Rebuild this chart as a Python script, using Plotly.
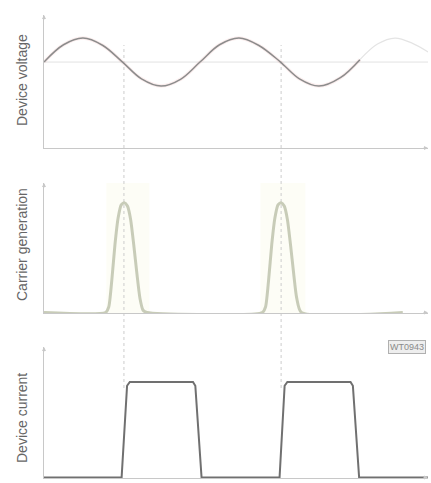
import plotly.graph_objects as go

W, H = 431, 483

# ---- data (time in quarter-period units) ----
volt_t = [0, 0.5, 1.0, 1.5, 2.0, 2.5, 3.0, 3.5, 4.0, 4.5, 5.0, 5.5, 6.05, 6.55, 7.05, 7.6, 8.1]
volt_v = [0, 0.72, 1.0, 0.7, 0.02, -0.7, -1.0, -0.72, 0, 0.72, 1.0, 0.7, 0.02, -0.7, -1.0, -0.65, 0.1]
volt_faint_t = [8.1, 8.55, 9.0, 9.45, 9.85]
volt_faint_v = [0.1, 0.75, 1.0, 0.78, 0.42]

carr_t = [0, 1.58, 1.66, 1.74, 1.82, 1.9, 1.98, 2.06, 2.14, 2.22, 2.3, 2.38, 2.46, 2.54, 2.64,
          5.6, 5.68, 5.76, 5.84, 5.92, 6.0, 6.08, 6.16, 6.24, 6.32, 6.4, 6.48, 6.6, 9.2]
carr_v = [0, 0, 0.05, 0.3, 0.62, 0.86, 0.98, 1.0, 0.97, 0.85, 0.62, 0.36, 0.13, 0.02, 0,
          0, 0.05, 0.3, 0.62, 0.86, 0.98, 1.0, 0.97, 0.85, 0.62, 0.36, 0.13, 0, 0]

curr_t = [0, 1.99, 2.13, 2.2, 3.82, 3.88, 4.04, 6.04, 6.17, 6.24, 7.86, 7.92, 8.08, 9.85]
curr_v = [0, 0, 0.96, 1.0, 1.0, 0.96, 0, 0, 0.96, 1.0, 1.0, 0.96, 0, 0]

marker_t = [2.05, 6.08]
labels = ["Device voltage", "Carrier generation", "Device current"]
tag = "WT0943"

X0, X1 = 44 / W, 428 / W
XMAX = (428 - 44) / 39

def pf(py):
    return 1 - py / H

fig = go.Figure()

# voltage
fig.add_trace(go.Scatter(x=volt_faint_t, y=volt_faint_v, mode="lines",
                         line=dict(color="#e4e4e4", width=1.2, shape="spline"),
                         xaxis="x", yaxis="y", hoverinfo="skip"))
fig.add_trace(go.Scatter(x=volt_t, y=volt_v, mode="lines",
                         line=dict(color="rgba(235,160,160,0.18)", width=3.5, shape="spline"),
                         xaxis="x", yaxis="y", hoverinfo="skip"))
fig.add_trace(go.Scatter(x=volt_t, y=volt_v, mode="lines",
                         line=dict(color="#8c8c8c", width=1.5, shape="spline"),
                         xaxis="x", yaxis="y"))
# carrier
fig.add_trace(go.Scatter(x=carr_t, y=carr_v, mode="lines",
                         line=dict(color="#c8ccb8", width=3, shape="spline", smoothing=0.6),
                         xaxis="x2", yaxis="y2"))
# current
fig.add_trace(go.Scatter(x=curr_t, y=curr_v, mode="lines",
                         line=dict(color="#707070", width=2),
                         xaxis="x3", yaxis="y3"))

ax_common = dict(domain=[X0, X1], range=[0, XMAX], showgrid=False, zeroline=False,
                 showticklabels=False, ticks="", showline=True, linecolor="#c8c8c8", linewidth=1)
ay_common = dict(showgrid=False, zeroline=False, showticklabels=False, ticks="",
                 showline=True, linecolor="#c8c8c8", linewidth=1)

shapes = []
# faint yellow bands behind carrier peaks
for a, b in [(1.6, 2.7), (5.55, 6.7)]:
    shapes.append(dict(type="rect", xref="x2", yref="paper", x0=a, x1=b,
                       y0=pf(313), y1=pf(183), fillcolor="rgba(250,250,225,0.3)",
                       line=dict(width=0), layer="below"))
# voltage midline
shapes.append(dict(type="line", xref="x", yref="y", x0=0, x1=XMAX, y0=0, y1=0,
                   line=dict(color="#e2e2e2", width=1), layer="below"))
# dotted markers
for t in marker_t:
    shapes.append(dict(type="line", xref="x", yref="paper", x0=t, x1=t,
                       y0=pf(388), y1=pf(45), line=dict(color="#cccccc", width=1, dash="dot"),
                       layer="below"))

annotations = []
for lab, cy in zip(labels, [80, 245, 418]):
    annotations.append(dict(text=lab, xref="paper", yref="paper", x=22 / W, y=pf(cy),
                            textangle=-90, showarrow=False, xanchor="center", yanchor="middle",
                            font=dict(family="Liberation Sans, Arial", size=14, color="#666666")))
# axis arrows
for xa, ya, ytop, ybot in [("x", "y", 1.96, -3.58), ("x2", "y2", 1.18, 0), ("x3", "y3", 1.365, 0)]:
    annotations.append(dict(xref=xa, yref=ya, x=XMAX, y=ybot, ax=-6, ay=0, text="",
                            showarrow=True, arrowhead=2, arrowsize=0.8, arrowwidth=1,
                            arrowcolor="#c8c8c8"))
    annotations.append(dict(xref=xa, yref=ya, x=0, y=ytop, ax=0, ay=6, text="",
                            showarrow=True, arrowhead=2, arrowsize=0.8, arrowwidth=1,
                            arrowcolor="#c8c8c8"))
annotations.append(dict(text=tag, xref="paper", yref="paper", x=388 / W, y=pf(347),
                        xanchor="left", yanchor="middle", showarrow=False,
                        font=dict(family="Liberation Sans, Arial", size=9, color="#8a8a8a"),
                        bgcolor="#eeeeee", bordercolor="#b0b0b0", borderwidth=1, borderpad=1))

fig.update_layout(
    width=W, height=H, margin=dict(l=0, r=0, t=0, b=0),
    paper_bgcolor="white", plot_bgcolor="rgba(0,0,0,0)", showlegend=False,
    xaxis=dict(ax_common, anchor="y"),
    xaxis2=dict(ax_common, anchor="y2"),
    xaxis3=dict(ax_common, anchor="y3"),
    yaxis=dict(ay_common, domain=[pf(148), pf(15)], range=[-3.58, 1.96], anchor="x"),
    yaxis2=dict(ay_common, domain=[pf(313), pf(183)], range=[-0.005, 1.18], anchor="x2"),
    yaxis3=dict(ay_common, domain=[pf(478), pf(347)], range=[-0.005, 1.365], anchor="x3"),
    shapes=shapes, annotations=annotations,
)

fig.write_html("out.html", config={"displayModeBar": False},
               post_script="document.body.style.margin='0';")
